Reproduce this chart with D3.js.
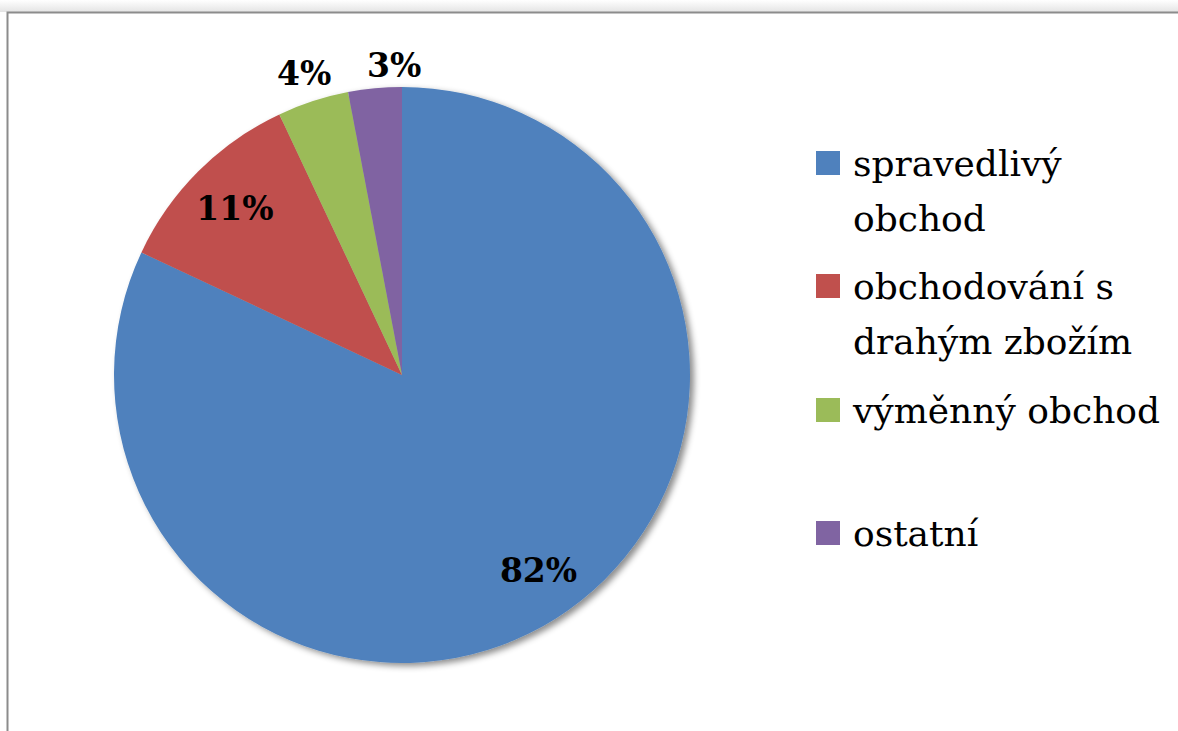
<!DOCTYPE html>
<html>
<head>
<meta charset="utf-8">
<script src="https://cdn.jsdelivr.net/npm/d3@7"></script>
<style>
    body { margin: 0; background: #fff; }
    svg { display: block; }
</style>
</head>
<body>
<svg id="chart" width="1178" height="731"></svg>
<script>
// Données
const categories = ["spravedlivý obchod", "obchodování s drahým zbožím", "výměnný obchod", "ostatní"];
const values = [82, 11, 4, 3];
const legendLines = [["spravedlivý", "obchod"], ["obchodování s", "drahým zbožím"], ["výměnný obchod"], ["ostatní"]];
const colors = ["#4F81BD", "#C0504D", "#9BBB59", "#8064A2"];

const width = 1178, height = 731;
const cx = 402, cy = 375, radius = 288;
const serif = "'DejaVu Serif', serif";

const svg = d3.select("#chart");

// ombre du cadre + ombre de la tarte
const defs = svg.append("defs");
const grad = defs.append("linearGradient")
    .attr("id", "topShade").attr("x1", 0).attr("y1", 0).attr("x2", 0).attr("y2", 1);
grad.append("stop").attr("offset", "0%").attr("stop-color", "#fff");
grad.append("stop").attr("offset", "100%").attr("stop-color", "#e4e4e4");

defs.append("filter")
    .attr("id", "shadow")
    .attr("x", "-10%").attr("y", "-10%").attr("width", "130%").attr("height", "130%")
    .append("feDropShadow")
    .attr("dx", 4).attr("dy", 3)
    .attr("stdDeviation", 3)
    .attr("flood-color", "#000")
    .attr("flood-opacity", 0.45);

svg.append("rect")
    .attr("x", 0).attr("y", 0)
    .attr("width", width).attr("height", 12)
    .attr("fill", "url(#topShade)");

// cadre (coupé à droite et en bas)
svg.append("rect")
    .attr("x", 7.5).attr("y", 12.5)
    .attr("width", width + 20).attr("height", height + 20)
    .attr("fill", "#fff")
    .attr("stroke", "#8c8c8c")
    .attr("stroke-width", 2);

const pie = d3.pie().sort(null).value(d => d);
const arcs = pie(values);
const arc = d3.arc().innerRadius(0).outerRadius(radius);

const g = svg.append("g").attr("transform", `translate(${cx},${cy})`);

const slices = g.append("g").attr("filter", "url(#shadow)");
slices.selectAll("path")
    .data(arcs)
    .join("path")
    .attr("d", arc)
    .attr("fill", (d, i) => colors[i]);

// étiquettes : dedans pour les grandes parts, dehors pour les petites
const innerLabel = d3.arc().innerRadius(radius * 0.82).outerRadius(radius * 0.82);
const outerLabel = d3.arc().innerRadius(radius * 1.1).outerRadius(radius * 1.1);

g.selectAll("text.label")
    .data(arcs)
    .join("text")
    .attr("class", "label")
    .attr("font-family", serif)
    .attr("font-weight", "bold")
    .attr("font-size", 33)
    .attr("text-anchor", "middle")
    .attr("dominant-baseline", "central")
    .attr("transform", d => {
        const big = d.data >= 10;
        let [x, y] = (big ? innerLabel : outerLabel).centroid(d);
        if (d.index === 0) { x += 10; y -= 4; }
        if (d.index === 3) { x += 22; y += 6; } // décalage comme Excel
        return `translate(${x},${y})`;
    })
    .text(d => `${d.data}%`);

// légende
const legendY = [163, 286, 410, 533];
const legend = svg.append("g").attr("class", "legend");
const items = legend.selectAll("g")
    .data(categories)
    .join("g")
    .attr("transform", (d, i) => `translate(816,${legendY[i]})`);

items.append("rect")
    .attr("x", 0).attr("y", -12)
    .attr("width", 24).attr("height", 24)
    .attr("fill", (d, i) => colors[i]);

items.append("text")
    .attr("x", 37)
    .attr("y", 0)
    .attr("font-family", serif)
    .attr("font-size", 36)
    .each(function(d, i) {
        const t = d3.select(this);
        legendLines[i].forEach((line, j) => {
            t.append("tspan")
                .attr("x", 37)
                .attr("dy", j === 0 ? "0.36em" : "1.52em")
                .text(line);
        });
    });
</script>
</body>
</html>
